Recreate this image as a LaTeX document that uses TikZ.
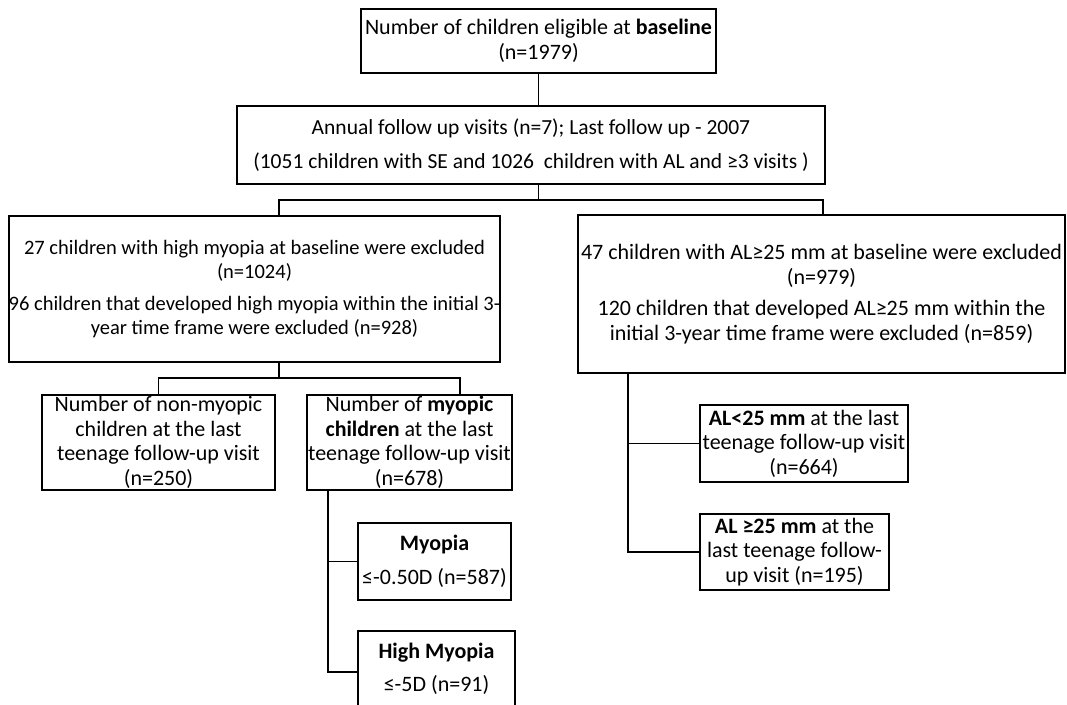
\documentclass[tikz,border=0pt]{standalone}
\usepackage{fontspec}
\setmainfont{Carlito}
\usetikzlibrary{positioning}

\begin{document}
\begin{tikzpicture}[x=1pt,y=-1pt,
    box/.style={draw, line width=1.8pt, align=center, inner sep=0pt,
                font=\fontsize{22}{24.5}\selectfont},
    link/.style={line width=1.8pt}]
            \clip (0,0) rectangle (1067,704);

            \node[box, minimum width=355, minimum height=64] (base) at (538.5,41)
                {Number of children eligible at \textbf{baseline}\\(n=1979)};
            \node[box, minimum width=588, minimum height=78,
                  font=\fontsize{21.5}{24.5}\selectfont] (visits) at (531,145)
                {Annual follow up visits (n=7); Last follow up - 2007\\[9.5pt]
                 (1051 children with SE and 1026\ \ children with AL and ≥3 visits )};

            \node[box, minimum width=485, minimum height=146,
                  font=\fontsize{20.5}{24.5}\selectfont] (se) at (254.5,289)
                {27 children with high myopia at baseline were excluded\\(n=1024)\\[7pt]
                 96 children that developed high myopia within the initial 3-\\
                 year time frame were excluded (n=928)};
            \node[box, minimum width=487, minimum height=158] (al) at (821.5,294)
                {47 children with AL≥25 mm at baseline were excluded\\(n=979)\\[7pt]
                 120 children that developed AL≥25 mm within the\\
                 initial 3-year time frame were excluded (n=859)};

            \node[box, minimum width=233, minimum height=95] (nonmyo) at (158.5,442.5)
                {Number of non-myopic\\children at the last\\teenage follow-up visit\\(n=250)};
            \node[box, minimum width=205, minimum height=95] (myo) at (409.5,442.5)
                {Number of \textbf{myopic}\\\textbf{children} at the last\\teenage follow-up visit\\(n=678)};

            \node[box, minimum width=153, minimum height=77] (myopia) at (434.5,561.5)
                {\textbf{Myopia}\\[9pt]≤-0.50D (n=587)};
            \node[box, minimum width=157, minimum height=75] (high) at (436.5,668.5)
                {\textbf{High Myopia}\\[8.5pt]≤-5D (n=91)};

            \node[box, minimum width=208, minimum height=77] (alshort) at (804,443.5)
                {\textbf{AL<25 mm} at the last\\teenage follow-up visit\\(n=664)};
            \node[box, minimum width=189, minimum height=76] (allong) at (794.5,552)
                {\textbf{AL ≥25 mm} at the\\last teenage follow-\\up visit (n=195)};

            \coordinate (jl) at (279,200);
            \coordinate (jr) at (823,200);
            \coordinate (jm) at (279,378);
            \coordinate (jmr) at (460,378);
            \coordinate (jmy) at (328,672);
            \coordinate (jal) at (628,552);

            \draw[link] (base.south) -- (base.south |- visits.north);
            \draw[link] (base.south |- visits.south) -- (base.south |- jl);
            \draw[link] (jl |- se.north) -- (jl) -- (jr) -- (jr |- al.north);

            \draw[link] (jm |- se.south) -- (jm);
            \draw[link] (nonmyo.north) -- (nonmyo.north |- jm) -- (jmr) -- (jmr |- myo.north);

            \draw[link] (jmy |- myo.south) -- (jmy) -- (jmy -| high.west);
            \draw[link] (jmy |- myopia.west) -- (myopia.west);

            \draw[link] (jal |- al.south) -- (jal) -- (allong.west);
            \draw[link] (jal |- alshort.west) -- (alshort.west);
\end{tikzpicture}
\end{document}
